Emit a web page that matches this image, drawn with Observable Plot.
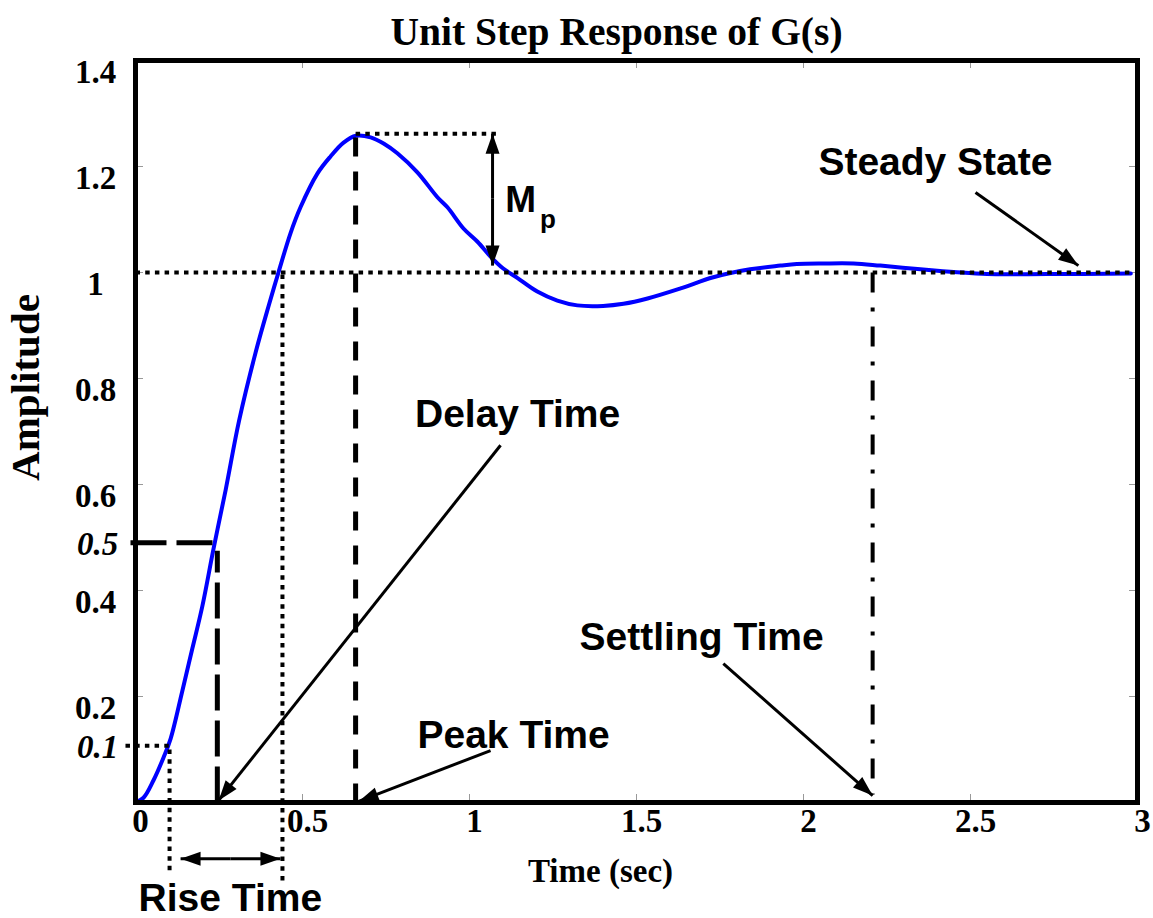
<!DOCTYPE html>
<html><head><meta charset="utf-8">
<script src="https://cdn.jsdelivr.net/npm/d3@7"></script>
<script src="https://cdn.jsdelivr.net/npm/@observablehq/plot@0.6"></script>
<style>body{margin:0;background:#fff}</style>
</head><body><div id="chart"></div>
<script>
// ---- step response curve ----
const time = [0,0.024,0.054,0.084,0.105,0.14,0.17,0.2,0.234,0.27,0.31,0.36,0.40,0.428,0.464,0.494,0.545,0.584,0.623,0.66,0.704,0.744,0.784,0.844,0.904,0.934,0.982,1.024,1.063,1.10,1.143,1.203,1.263,1.323,1.40,1.461,1.533,1.632,1.73,1.84,1.931,1.98,2.06,2.15,2.23,2.35,2.45,2.55,2.73,2.98];
const amplitude = [0,0.009,0.042,0.085,0.12,0.21,0.29,0.37,0.48,0.59,0.72,0.85,0.94,1.0,1.074,1.123,1.187,1.219,1.245,1.258,1.255,1.243,1.225,1.189,1.142,1.123,1.083,1.058,1.03,1.008,0.99,0.964,0.947,0.938,0.937,0.941,0.951,0.970,0.991,1.006,1.013,1.016,1.017,1.017,1.013,1.006,1.001,0.997,0.997,0.998];

// ---- axes ----
const xTickValues = [0,0.5,1,1.5,2,2.5,3];
const xTickLabels = ["0","0.5","1","1.5","2","2.5","3"];
const yTickValues = [0.2,0.4,0.6,0.8,1,1.2,1.4];
const yTickLabels = ["0.2","0.4","0.6","0.8","1","1.2","1.4"];
const innerXTicks = [0.5,1,1.5,2,2.5];
const innerYTicks = [0.2,0.4,0.6,0.8,1,1.2];
const italicLevels = [0.49,0.107];
const italicLabels = ["0.5","0.1"];

// ---- characteristic values ----
const steadyValue = 1;
const peakTime = 0.659, peakValue = 1.262;
const riseStart = 0.102, riseEnd = 0.44;
const tenLevel = 0.107, halfLevel = 0.49;
const halfTime = 0.234, delayTime = 0.245;
const settlingTime = 2.207;

// ---- annotation labels ----
const labelText = ["Delay Time","Peak Time","Settling Time","Steady State","Rise Time"];
const labelT = [1.144,1.132,1.695,2.395,0.284];
const labelY = [0.732,0.126,0.311,1.208,-0.182];

// ---- arrows ----
const arrowFromT = [1.093,1.063,1.76,2.515,1.069,1.069,0.285,0.285];
const arrowFromY = [0.674,0.098,0.262,1.151,1.14,1.14,-0.106,-0.106];
const arrowToT   = [0.249,0.668,2.207,2.823,1.069,1.069,0.135,0.434];
const arrowToY   = [0.004,0.002,0.013,1.013,1.262,1.013,-0.106,-0.106];

// ---- layout ----
const W = 1153, H = 918;
const mL = 135, mR = 16, mT = 60, mB = 116;
const xDomain = [0,3], yDomain = [0,1.4];
const kx = (W - mL - mR) / (xDomain[1]-xDomain[0]);
const ky = (H - mT - mB) / (yDomain[1]-yDomain[0]);
const tickLenX = 8 / kx, tickLenY = 8 / ky;

const curve = time.map((t,i)=>({t, y: amplitude[i]}));

const dotted = [
  {x1:0, y1:steadyValue, x2:2.98, y2:steadyValue},
  {x1:peakTime, y1:peakValue, x2:1.08, y2:peakValue},
  {x1:-0.03, y1:tenLevel, x2:riseStart, y2:tenLevel},
  {x1:riseStart, y1:-0.128, x2:riseStart, y2:tenLevel},
  {x1:riseEnd, y1:-0.147, x2:riseEnd, y2:steadyValue}
];
const dashed = [{x1:peakTime, y1:0, x2:peakTime, y2:peakValue}];
const longDashed = [
  {x1:-0.015, y1:halfLevel, x2:halfTime, y2:halfLevel},
  {x1:delayTime, y1:0, x2:delayTime, y2:0.475}
];
const dashDot = [{x1:settlingTime, y1:steadyValue, x2:settlingTime, y2:0.015}];

const arrows = arrowFromT.map((t,i)=>{
  const dxp = (arrowToT[i]-t)*kx, dyp = -(arrowToY[i]-arrowFromY[i])*ky;
  return {x1:t, y1:arrowFromY[i], x2:arrowToT[i], y2:arrowToY[i],
          angle: Math.atan2(dxp, -dyp)*180/Math.PI};
});
const arrowHead = {draw(ctx){ ctx.moveTo(0,0); ctx.lineTo(-7,20); ctx.lineTo(7,20); ctx.closePath(); }};

const serif = "Liberation Serif, Times New Roman, serif";
const sans = "Liberation Sans, Arial, sans-serif";

const chart = Plot.plot({
  width: W, height: H,
  marginLeft: mL, marginRight: mR, marginTop: mT, marginBottom: mB,
  x: {domain: xDomain, axis: null},
  y: {domain: yDomain, axis: null},
  style: {background: "white", overflow: "visible"},
  marks: [
    // inward ticks
    Plot.ruleX(innerXTicks, {x: d=>d, y1: 0, y2: tickLenY, stroke: "#999", strokeWidth: 1}),
    Plot.ruleX(innerXTicks, {x: d=>d, y1: yDomain[1]-tickLenY, y2: yDomain[1], stroke: "#999", strokeWidth: 1}),
    Plot.ruleY(innerYTicks, {y: d=>d, x1: 0, x2: tickLenX, stroke: "#999", strokeWidth: 1}),
    Plot.ruleY(innerYTicks, {y: d=>d, x1: xDomain[1]-tickLenX, x2: xDomain[1], stroke: "#999", strokeWidth: 1}),
    // response
    Plot.line(curve, {x: "t", y: "y", stroke: "#0000ff", strokeWidth: 4, curve: "catmull-rom"}),
    // guides
    Plot.link(dotted, {x1:"x1", y1:"y1", x2:"x2", y2:"y2", stroke:"black", strokeWidth:4, strokeDasharray:"4.5,5.2"}),
    Plot.link(dashed, {x1:"x1", y1:"y1", x2:"x2", y2:"y2", stroke:"black", strokeWidth:5, strokeDasharray:"19,15"}),
    Plot.link(longDashed, {x1:"x1", y1:"y1", x2:"x2", y2:"y2", stroke:"black", strokeWidth:5, strokeDasharray:"36,10"}),
    Plot.link(dashDot, {x1:"x1", y1:"y1", x2:"x2", y2:"y2", stroke:"black", strokeWidth:4, strokeDasharray:"20,15,4,15"}),
    // arrows
    Plot.link(arrows, {x1:"x1", y1:"y1", x2:"x2", y2:"y2", stroke:"black", strokeWidth:3}),
    Plot.dot(arrows, {x:"x2", y:"y2", symbol: arrowHead, rotate:"angle", fill:"black", stroke:null, r:5}),
    // frame
    Plot.frame({stroke: "black", strokeWidth: 5}),
    // tick labels
    Plot.text(yTickValues, {y: d=>d, text: (d,i)=>yTickLabels[i], frameAnchor:"left", dx:-40, dy:12, textAnchor:"middle", fontFamily: serif, fontWeight:"bold", fontSize:33, fill:"black"}),
    Plot.text(xTickValues, {x: d=>d, text: (d,i)=>xTickLabels[i], frameAnchor:"bottom", dx:5, dy:29, textAnchor:"middle", fontFamily: serif, fontWeight:"bold", fontSize:33, fill:"black"}),
    Plot.text(italicLevels, {y: d=>d, text: (d,i)=>italicLabels[i], frameAnchor:"left", dx:-38, dy:2, textAnchor:"middle", fontFamily: serif, fontWeight:"bold", fontStyle:"italic", fontSize:33, fill:"black"}),
    // annotation labels
    Plot.text(labelText, {x: (d,i)=>labelT[i], y: (d,i)=>labelY[i], text: d=>d, textAnchor:"middle", fontFamily: sans, fontWeight:"bold", fontSize:39, fill:"black"}),
    Plot.text(["M"], {x: 1.153, y: 1.136, text: d=>d, textAnchor:"middle", fontFamily: sans, fontWeight:"bold", fontSize:37, fill:"black"}),
    Plot.text(["p"], {x: 1.235, y: 1.1, text: d=>d, textAnchor:"middle", fontFamily: sans, fontWeight:"bold", fontSize:26, fill:"black"}),
    // titles
    Plot.text(["Unit Step Response of G(s)"], {text: d=>d, frameAnchor:"top", textAnchor:"middle", dx:-20, dy:-44, fontFamily: serif, fontWeight:"bold", fontSize:39.5, fill:"black"}),
    Plot.text(["Time (sec)"], {text: d=>d, frameAnchor:"bottom", textAnchor:"middle", dx:-36, dy:79, fontFamily: serif, fontWeight:"bold", fontSize:33, fill:"black"}),
    Plot.text(["Amplitude"], {text: d=>d, frameAnchor:"left", textAnchor:"middle", dx:-110, dy:-44, rotate:-90, fontFamily: serif, fontWeight:"bold", fontSize:41, fill:"black"})
  ]
});
document.getElementById("chart").append(chart);
</script>
</body></html>
